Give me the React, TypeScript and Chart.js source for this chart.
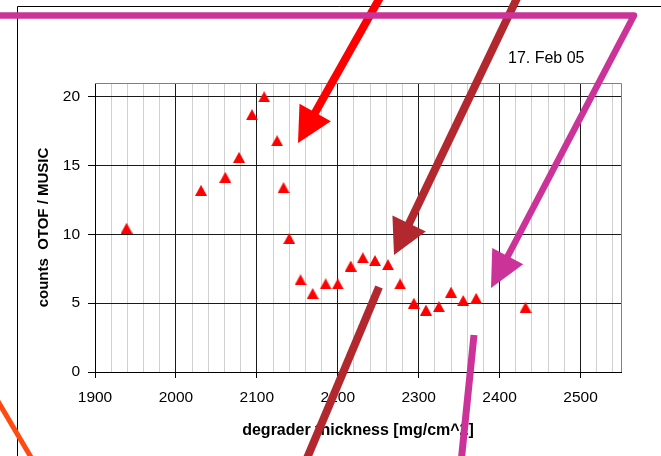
import { useEffect, useRef } from "react";
import { Chart, registerables } from "chart.js";

Chart.register(...registerables);

// Degrader scan: ratio of OTOF to MUSIC counts versus degrader thickness
const thickness = [
  1939, 2031, 2061, 2078, 2094, 2109, 2125, 2133, 2140, 2154, 2169, 2185, 2200,
  2216, 2231, 2246, 2262, 2277, 2294, 2309, 2325, 2340, 2355, 2371, 2432,
];
const counts = [
  10.45, 13.2, 14.15, 15.6, 18.7, 20.0, 16.8, 13.4, 9.7, 6.7, 5.7, 6.4, 6.4,
  7.7, 8.3, 8.1, 7.8, 6.4, 5.0, 4.5, 4.75, 5.8, 5.2, 5.35, 4.7,
];

// Axis ranges and tick spacing
const xMin = 1900;
const xMax = 2550;
const xMinorStep = 20;
const xMajorStep = 100;
const yMin = 0;
const yMax = 21;
const yStep = 5;

const xTitle = "degrader thickness [mg/cm^2]";
const yTitle = "counts  OTOF / MUSIC";
const dateNote = "17. Feb 05";

const FONT = "'Liberation Sans', Arial, Helvetica, sans-serif";
const RED = "#ff0000";
const BROWN = "#b2282e";
const MAGENTA = "#cc3399";
const ORANGE = "#ff4a12";

type Pt = [number, number];
interface Stroke {
  color: string;
  width: number;
  points: Pt[];
  head?: { length: number; width: number };
}

// Hand-drawn markup strokes laid over the chart (canvas pixels)
const markup: Stroke[] = [
  { color: ORANGE, width: 5, points: [[-4, 398], [35, 464]] },
  { color: BROWN, width: 8, points: [[379, 287], [305, 463]] },
  { color: MAGENTA, width: 7, points: [[474, 335], [461, 463]] },
  {
    color: RED,
    width: 8,
    points: [[382, -6], [298, 143]],
    head: { length: 35, width: 36 },
  },
  {
    color: BROWN,
    width: 8,
    points: [[519, -6], [394, 255]],
    head: { length: 35, width: 37 },
  },
  {
    color: MAGENTA,
    width: 6.5,
    points: [[-6, 15.5], [634, 15.5], [491, 288]],
    head: { length: 36, width: 35 },
  },
];

function drawStroke(ctx: CanvasRenderingContext2D, s: Stroke) {
  const pts = s.points.map((p) => [p[0], p[1]] as Pt);
  let headPts: Pt[] | null = null;
  if (s.head) {
    const tip = pts[pts.length - 1];
    const prev = pts[pts.length - 2];
    const dx = tip[0] - prev[0];
    const dy = tip[1] - prev[1];
    const len = Math.hypot(dx, dy);
    const ux = dx / len;
    const uy = dy / len;
    const bx = tip[0] - ux * s.head.length;
    const by = tip[1] - uy * s.head.length;
    const hw = s.head.width / 2;
    headPts = [
      [bx - uy * hw, by + ux * hw],
      [tip[0], tip[1]],
      [bx + uy * hw, by - ux * hw],
    ];
    pts[pts.length - 1] = [bx + ux * 2, by + uy * 2];
  }
  ctx.save();
  ctx.strokeStyle = s.color;
  ctx.fillStyle = s.color;
  ctx.lineWidth = s.width;
  ctx.lineCap = "butt";
  ctx.lineJoin = "round";
  ctx.beginPath();
  ctx.moveTo(pts[0][0], pts[0][1]);
  for (let i = 1; i < pts.length; i++) ctx.lineTo(pts[i][0], pts[i][1]);
  ctx.stroke();
  if (headPts) {
    ctx.beginPath();
    ctx.moveTo(headPts[0][0], headPts[0][1]);
    ctx.lineTo(headPts[1][0], headPts[1][1]);
    ctx.lineTo(headPts[2][0], headPts[2][1]);
    ctx.closePath();
    ctx.fill();
  }
  ctx.restore();
}

const overlayPlugin = {
  id: "overlay",
  beforeDraw(chart: Chart) {
    const ctx = chart.ctx;
    ctx.save();
    ctx.fillStyle = "#ffffff";
    ctx.fillRect(0, 0, chart.width, chart.height);
    // outer chart frame
    ctx.strokeStyle = "#000000";
    ctx.lineWidth = 1;
    ctx.beginPath();
    ctx.moveTo(chart.width + 2, 6.5);
    ctx.lineTo(17.5, 6.5);
    ctx.lineTo(17.5, chart.height + 2);
    ctx.stroke();
    ctx.restore();
  },
  beforeDatasetsDraw(chart: Chart) {
    const { ctx, chartArea } = chart;
    ctx.save();
    ctx.strokeStyle = "#808080";
    ctx.lineWidth = 1;
    ctx.beginPath();
    const t = Math.round(chartArea.top) + 0.5;
    const r = Math.round(chartArea.right) + 0.5;
    ctx.moveTo(chartArea.left, t);
    ctx.lineTo(r, t);
    ctx.lineTo(r, chartArea.bottom);
    ctx.stroke();
    ctx.restore();
  },
  afterDraw(chart: Chart) {
    const ctx = chart.ctx;
    ctx.save();
    ctx.fillStyle = "#000000";
    ctx.font = `16px ${FONT}`;
    ctx.textAlign = "left";
    ctx.textBaseline = "alphabetic";
    ctx.fillText(dateNote, 508, 62.5);
    ctx.restore();
    markup.forEach((s) => drawStroke(chart.ctx, s));
  },
};

function triangleMarker(): HTMLCanvasElement {
  const c = document.createElement("canvas");
  c.width = 12;
  c.height = 11;
  const g = c.getContext("2d")!;
  g.fillStyle = RED;
  g.beginPath();
  g.moveTo(0, 11);
  g.lineTo(6, 0);
  g.lineTo(12, 11);
  g.closePath();
  g.fill();
  return c;
}

export default function App() {
  const canvasRef = useRef<HTMLCanvasElement | null>(null);

  useEffect(() => {
    const canvas = canvasRef.current;
    if (!canvas) return;
    const marker = triangleMarker();
    const isMajor = (v: number) => Math.abs(v % xMajorStep) < 1e-6;

    const chart = new Chart(canvas, {
      type: "scatter",
      data: {
        datasets: [
          {
            data: thickness.map((x, i) => ({ x, y: counts[i] })),
            pointStyle: marker,
            pointRadius: 6,
            pointHoverRadius: 6,
            showLine: false,
          },
        ],
      },
      options: {
        responsive: false,
        animation: false,
        events: [],
        layout: { padding: { left: 0, top: 83, right: 40, bottom: 0 } },
        plugins: {
          legend: { display: false },
          tooltip: { enabled: false },
        },
        scales: {
          x: {
            type: "linear",
            min: xMin,
            max: xMax,
            afterFit: (scale: any) => {
              scale.height = 84;
            },
            border: { display: true, color: "#000000", width: 1 },
            grid: {
              color: (c: any) => (isMajor(c.tick.value) ? "#1a1a1a" : "#d0d0d0"),
              tickColor: (c: any) =>
                isMajor(c.tick.value) ? "#000000" : "rgba(0,0,0,0)",
              tickLength: 6,
              drawTicks: true,
            },
            ticks: {
              stepSize: xMinorStep,
              maxTicksLimit: 200,
              includeBounds: false,
              autoSkip: false,
              maxRotation: 0,
              padding: 10,
              color: "#000000",
              font: { family: FONT, size: 15.5 },
              callback: (v: any) => (isMajor(Number(v)) ? String(v) : ""),
            },
            title: {
              display: true,
              text: xTitle,
              color: "#000000",
              font: { family: FONT, size: 16, weight: "bold" },
              padding: { top: 0, bottom: 16 },
            },
          },
          y: {
            type: "linear",
            min: yMin,
            max: yMax,
            afterFit: (scale: any) => {
              scale.width = 95;
            },
            border: { display: true, color: "#000000", width: 1 },
            grid: {
              color: "#1a1a1a",
              tickColor: "#000000",
              tickLength: 7,
            },
            ticks: {
              stepSize: yStep,
              includeBounds: false,
              padding: 8,
              color: "#000000",
              font: { family: FONT, size: 15.5 },
            },
            title: {
              display: true,
              text: yTitle,
              color: "#000000",
              font: { family: FONT, size: 15, weight: "bold" },
              padding: { top: 35, bottom: 0 },
            },
          },
        },
      },
      plugins: [overlayPlugin],
    });

    return () => chart.destroy();
  }, []);

  return (
    <div style={{ position: "absolute", left: 0, top: 0, width: 661, height: 456 }}>
      <canvas
        ref={canvasRef}
        width={661}
        height={456}
        style={{ display: "block", width: 661, height: 456 }}
      />
    </div>
  );
}
